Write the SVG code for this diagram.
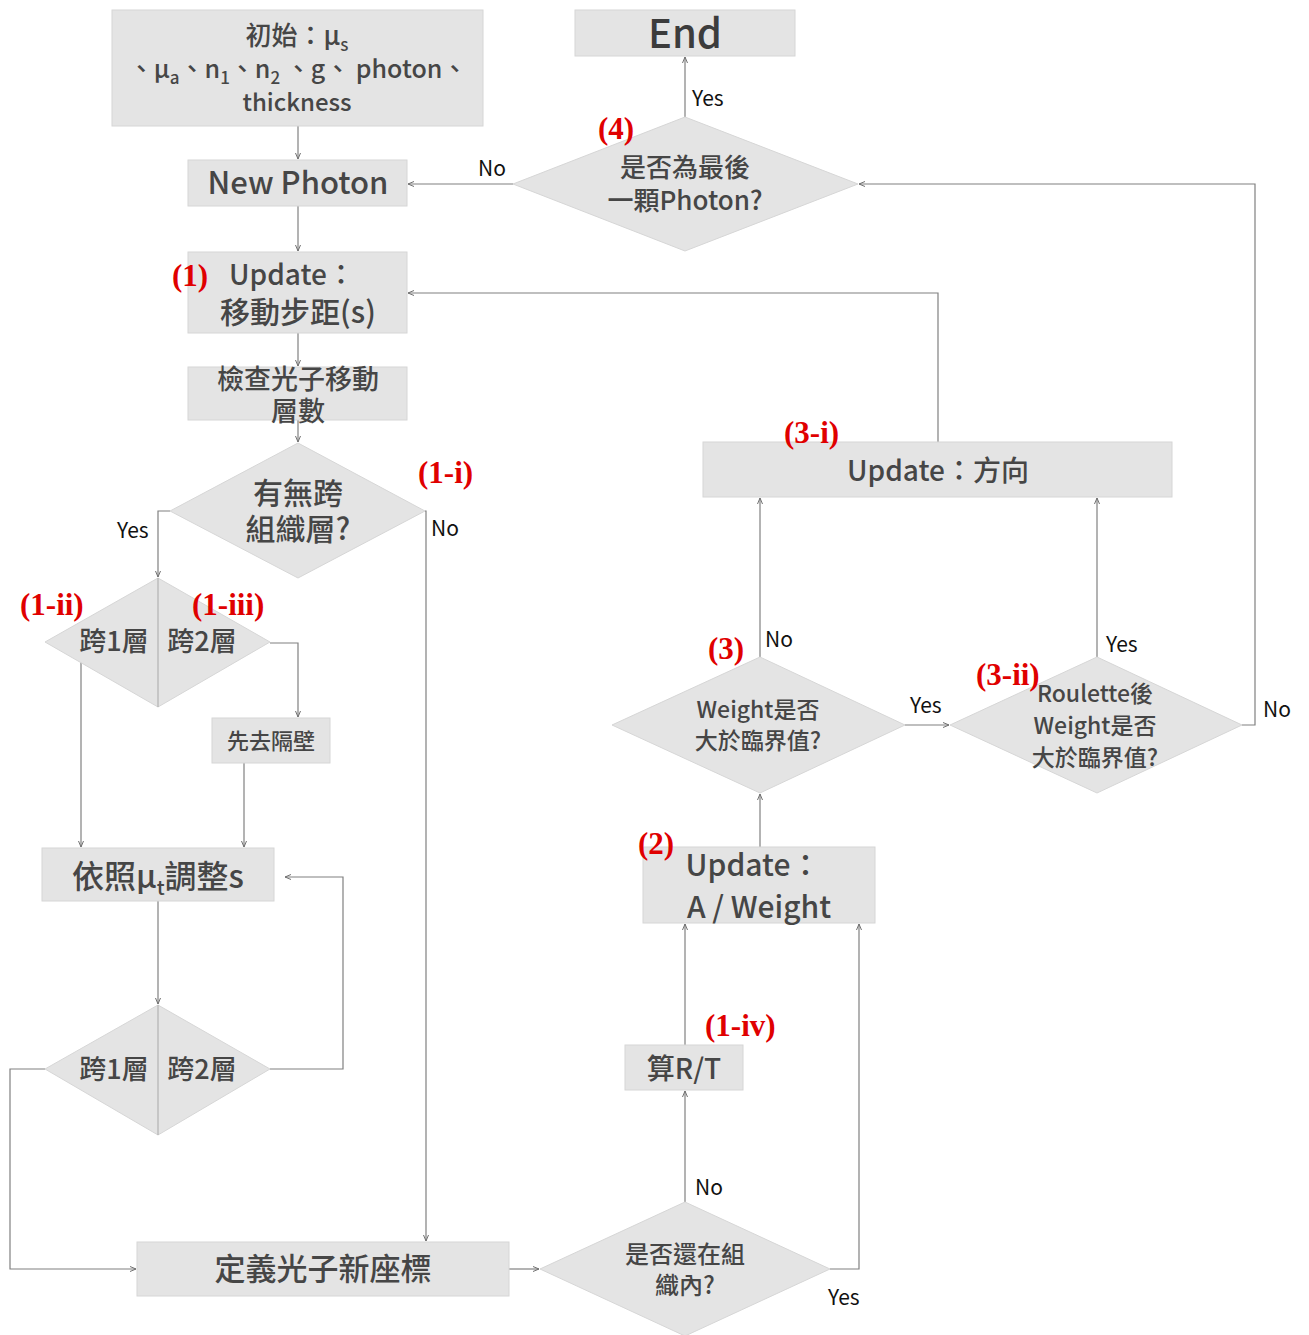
<svg xmlns="http://www.w3.org/2000/svg" width="1309" height="1335" viewBox="0 0 1309 1335">
<defs>
<marker id="ar" markerWidth="8" markerHeight="8" refX="7" refY="4" orient="auto" markerUnits="userSpaceOnUse">
<path d="M1,1.5 L7,4 L1,6.5" fill="none" stroke="#707070" stroke-width="1"/>
</marker>
</defs>
<style>
.box{fill:#e4e4e4;stroke:#d6d6d6;stroke-width:1}
.div{stroke:#a8a8a8;stroke-width:1}
.t{font-family:"Noto Sans CJK TC","Noto Sans",sans-serif;fill:#464646;text-anchor:middle;font-weight:500}
.lb{font-family:"Noto Sans CJK TC","Noto Sans",sans-serif;fill:#111;font-size:21px}
.red{font-family:"Liberation Serif","Times New Roman",serif;fill:#e00000;font-weight:bold;font-size:31px}
.c path{fill:none;stroke:#808080;stroke-width:1.2;marker-end:url(#ar)}
</style>
<rect width="1309" height="1335" fill="#fff"/>

<g class="c" id="connectors">
<path d="M298,126 V159"/>
<path d="M298,206 V251"/>
<path d="M298,333 V366"/>
<path d="M298,420 V442"/>
<path d="M170,511 H158 V577"/>
<path d="M425,511 H426 V1241"/>
<path d="M270,643 H298 V717"/>
<path d="M81,660 V847"/>
<path d="M244,763 V847"/>
<path d="M158,901 V1004"/>
<path d="M270,1069 H343 V877 H285"/>
<path d="M45,1069 H10 V1269 H136"/>
<path d="M509,1269 H539"/>
<path d="M685,1202 V1091"/>
<path d="M685,1045 V924"/>
<path d="M830,1269 H859 V924"/>
<path d="M760,847 V794"/>
<path d="M760,657 V498"/>
<path d="M905,725 H949"/>
<path d="M1097,657 V498"/>
<path d="M1242,725 H1255 V184 H859"/>
<path d="M938,442 V293 H408"/>
<path d="M685,117 V57"/>
<path d="M513,184 H408"/>
</g>

<g id="n_init">
<rect class="box" x="112" y="10" width="371" height="116"/>
<text class="t" x="297" y="45" font-size="26">初始：μ<tspan font-size="17" dy="6">s</tspan></text>
<text class="t" x="298" y="78" font-size="25">、μ<tspan font-size="17" dy="6">a</tspan><tspan dy="-6">、n</tspan><tspan font-size="17" dy="6">1</tspan><tspan dy="-6">、n</tspan><tspan font-size="17" dy="6">2</tspan><tspan dy="-6"> 、g、 photon、</tspan></text>
<text class="t" x="297" y="111" font-size="24">thickness</text>
</g>

<g id="n_end">
<rect class="box" x="575" y="10" width="220" height="46"/>
<text class="t" x="685" y="48" font-size="40" style="fill:#3c3c3c">End</text>
</g>

<g id="n_new">
<rect class="box" x="188" y="160" width="219" height="46"/>
<text class="t" x="298" y="194" font-size="31">New Photon</text>
</g>

<g id="n_upd1">
<rect class="box" x="188" y="252" width="219" height="81"/>
<text class="t" x="292" y="285" font-size="28">Update：</text>
<text class="t" x="298" y="323" font-size="30">移動步距(s)</text>
</g>

<g id="n_check">
<rect class="box" x="188" y="367" width="219" height="53"/>
<text class="t" x="298" y="389" font-size="27">檢查光子移動</text>
<text class="t" x="298" y="421" font-size="27">層數</text>
</g>

<g id="d_cross">
<polygon class="box" points="298,443 425,511 298,578 170,511"/>
<text class="t" x="298" y="504" font-size="30">有無跨</text>
<text class="t" x="298" y="540" font-size="30">組織層?</text>
</g>

<g id="d_layer1">
<polygon class="box" points="158,578 270,642 158,707 45,642"/>
<line class="div" x1="158" y1="578" x2="158" y2="707"/>
<text class="t" x="114" y="651" font-size="27">跨1層</text>
<text class="t" x="202" y="651" font-size="27">跨2層</text>
</g>

<g id="n_next">
<rect class="box" x="212" y="718" width="118" height="45"/>
<text class="t" x="271" y="749" font-size="22">先去隔壁</text>
</g>

<g id="n_adj">
<rect class="box" x="42" y="848" width="232" height="53"/>
<text class="t" x="158" y="888" font-size="32">依照μ<tspan font-size="20" dy="7">t</tspan><tspan dy="-7">調整s</tspan></text>
</g>

<g id="d_layer2">
<polygon class="box" points="158,1005 270,1069 158,1135 45,1069"/>
<line class="div" x1="158" y1="1005" x2="158" y2="1135"/>
<text class="t" x="114" y="1079" font-size="27">跨1層</text>
<text class="t" x="202" y="1079" font-size="27">跨2層</text>
</g>

<g id="n_coord">
<rect class="box" x="137" y="1242" width="372" height="54"/>
<text class="t" x="323" y="1280" font-size="31">定義光子新座標</text>
</g>

<g id="d_inside">
<polygon class="box" points="685,1202 830,1269 685,1336 540,1269"/>
<text class="t" x="685" y="1263" font-size="24">是否還在組</text>
<text class="t" x="685" y="1294" font-size="24">織內?</text>
</g>

<g id="n_rt">
<rect class="box" x="625" y="1045" width="118" height="45"/>
<text class="t" x="684" y="1079" font-size="28">算R/T</text>
</g>

<g id="n_aw">
<rect class="box" x="643" y="847" width="232" height="76"/>
<text class="t" x="753" y="876" font-size="30">Update：</text>
<text class="t" x="759" y="918" font-size="30">A /  Weight</text>
</g>

<g id="d_w">
<polygon class="box" points="760,657 905,725 760,793 612,725"/>
<text class="t" x="758" y="718" font-size="23">Weight是否</text>
<text class="t" x="758" y="749" font-size="23">大於臨界值?</text>
</g>

<g id="d_roul">
<polygon class="box" points="1097,657 1242,725 1097,793 950,725"/>
<text class="t" x="1095" y="702" font-size="23">Roulette後</text>
<text class="t" x="1095" y="734" font-size="23">Weight是否</text>
<text class="t" x="1095" y="766" font-size="23">大於臨界值?</text>
</g>

<g id="n_dir">
<rect class="box" x="703" y="442" width="469" height="55"/>
<text class="t" x="938" y="481" font-size="28">Update：方向</text>
</g>

<g id="d_last">
<polygon class="box" points="685,117 858,184 685,251 513,184"/>
<text class="t" x="685" y="177" font-size="26">是否為最後</text>
<text class="t" x="685" y="210" font-size="26">一顆Photon?</text>
</g>

<g id="labels">
<text class="lb" x="692" y="106">Yes</text>
<text class="lb" x="478" y="176">No</text>
<text class="lb" x="117" y="538">Yes</text>
<text class="lb" x="431" y="536">No</text>
<text class="lb" x="765" y="647">No</text>
<text class="lb" x="1106" y="652">Yes</text>
<text class="lb" x="910" y="713">Yes</text>
<text class="lb" x="1263" y="717">No</text>
<text class="lb" x="695" y="1195">No</text>
<text class="lb" x="828" y="1305">Yes</text>
</g>

<g id="tags">
<text class="red" x="598" y="139">(4)</text>
<text class="red" x="172" y="286">(1)</text>
<text class="red" x="418" y="483">(1-i)</text>
<text class="red" x="20" y="615">(1-ii)</text>
<text class="red" x="192" y="615">(1-iii)</text>
<text class="red" x="784" y="443">(3-i)</text>
<text class="red" x="708" y="659">(3)</text>
<text class="red" x="976" y="685">(3-ii)</text>
<text class="red" x="638" y="854">(2)</text>
<text class="red" x="705" y="1036">(1-iv)</text>
</g>
</svg>
